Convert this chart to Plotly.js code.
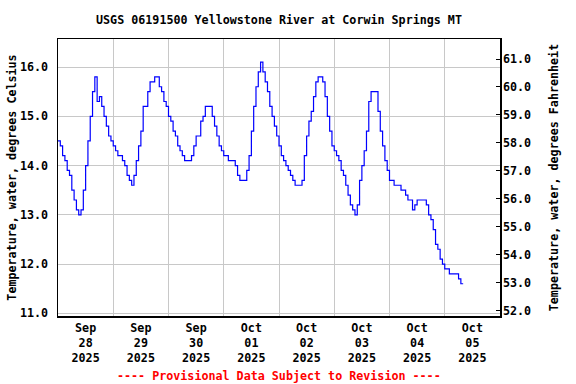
<!DOCTYPE html>
<html>
<head>
<meta charset="utf-8">
<script src="https://cdn.plot.ly/plotly-3.0.1.min.js"></script>
<style>
  html, body { margin: 0; padding: 0; background: #ffffff; }
  #chart { width: 576px; height: 384px; }
</style>
</head>
<body>
<div id="chart"></div>
<script>
// ---- Data (hourly readings, degrees Celsius) ----
const stationTitle = 'USGS 06191500 Yellowstone River at Corwin Springs MT';
const firstReading = '2025-09-28T00:00:00';
const readingIntervalHours = 1;

const tempSep28 = [14.5, 14.4, 14.2, 14.1, 13.9, 13.8, 13.5, 13.3, 13.1, 13.0, 13.1, 13.5,
                   14.0, 14.5, 15.0, 15.5, 15.8, 15.3, 15.4, 15.2, 15.0, 14.8, 14.6, 14.5];
const tempSep29 = [14.4, 14.3, 14.2, 14.2, 14.1, 14.0, 13.8, 13.7, 13.6, 13.8, 14.1, 14.4,
                   14.7, 15.2, 15.2, 15.5, 15.7, 15.7, 15.8, 15.8, 15.6, 15.5, 15.3, 15.2];
const tempSep30 = [15.0, 14.9, 14.7, 14.6, 14.4, 14.3, 14.2, 14.1, 14.1, 14.1, 14.2, 14.4,
                   14.6, 14.6, 14.9, 15.0, 15.2, 15.2, 15.2, 15.0, 14.8, 14.6, 14.4, 14.3];
const tempOct01 = [14.2, 14.2, 14.1, 14.1, 14.1, 14.0, 13.8, 13.7, 13.7, 13.7, 13.9, 14.2,
                   14.7, 15.2, 15.6, 15.9, 16.1, 15.9, 15.7, 15.5, 15.2, 15.0, 14.8, 14.6];
const tempOct02 = [14.4, 14.2, 14.1, 14.0, 13.9, 13.8, 13.7, 13.6, 13.6, 13.6, 13.7, 14.2,
                   14.6, 14.9, 15.1, 15.4, 15.7, 15.8, 15.8, 15.7, 15.4, 15.0, 14.7, 14.4];
const tempOct03 = [14.3, 14.2, 14.1, 13.9, 13.8, 13.6, 13.4, 13.2, 13.1, 13.0, 13.2, 13.7,
                   14.0, 14.3, 14.7, 15.3, 15.5, 15.5, 15.5, 15.1, 14.7, 14.4, 14.1, 13.9];
const tempOct04 = [13.7, 13.7, 13.6, 13.6, 13.6, 13.5, 13.5, 13.4, 13.3, 13.3, 13.1, 13.2,
                   13.3, 13.3, 13.3, 13.3, 13.2, 13.0, 12.9, 12.7, 12.4, 12.3, 12.1, 12.0];
const tempOct05 = [11.9, 11.9, 11.8, 11.8, 11.8, 11.8, 11.7, 11.6, 11.6];

const celsiusTicks = [11.0, 12.0, 13.0, 14.0, 15.0, 16.0];
const fahrenheitTicks = [52, 53, 54, 55, 56, 57, 58, 59, 60, 61];
const provisionalNote = '---- Provisional Data Subject to Revision ----';

// ---- Build series ----
const temperatureC = [].concat(tempSep28, tempSep29, tempSep30, tempOct01,
                               tempOct02, tempOct03, tempOct04, tempOct05);
const t0 = new Date(firstReading + 'Z').getTime();
function fmt(ms) {
  const d = new Date(ms);
  const p = n => String(n).padStart(2, '0');
  return d.getUTCFullYear() + '-' + p(d.getUTCMonth() + 1) + '-' + p(d.getUTCDate()) +
         ' ' + p(d.getUTCHours()) + ':' + p(d.getUTCMinutes());
}
const times = temperatureC.map((_, i) => fmt(t0 + i * readingIntervalHours * 3600000));

const FONT = 'DejaVu Sans Mono, Liberation Mono, monospace';
const fs = 11.7;

const trace = {
  x: times,
  y: temperatureC,
  type: 'scatter',
  mode: 'lines',
  line: { color: '#0000ff', width: 1.2, shape: 'hv' },
  hoverinfo: 'skip',
  showlegend: false
};
// invisible trace to activate the Fahrenheit axis
const traceF = {
  x: [times[0]],
  y: [fahrenheitTicks[0]],
  yaxis: 'y2',
  type: 'scatter',
  mode: 'markers',
  marker: { opacity: 0 },
  hoverinfo: 'skip',
  showlegend: false
};

const layout = {
  width: 576,
  height: 384,
  margin: { l: 58, r: 76, t: 39, b: 68 },
  paper_bgcolor: '#ffffff',
  plot_bgcolor: '#ffffff',
  font: { family: FONT, size: fs, color: '#000000', weight: 'bold' },
  title: {
    text: stationTitle,
    font: { family: FONT, size: fs, color: '#000000', weight: 'bold' },
    xref: 'paper', x: 0.5, xanchor: 'center',
    yref: 'container', y: 1 - 20 / 384, yanchor: 'middle'
  },
  xaxis: {
    type: 'date',
    range: ['2025-09-28 00:00', '2025-10-06 00:00'],
    tick0: '2025-09-28',
    dtick: 86400000,
    tickformat: '%b<br>%d<br>%Y',
    ticklabelmode: 'period',
    ticks: '',
    showgrid: true,
    gridcolor: '#c8c8c8',
    gridwidth: 1,
    showline: true,
    linecolor: '#000000',
    linewidth: 1.5,
    mirror: true,
    zeroline: false,
    tickfont: { family: FONT, size: fs, color: '#000000', weight: 'bold' }
  },
  yaxis: {
    range: [10.945, 16.569],
    tickvals: celsiusTicks,
    tickformat: '.1f',
    ticks: '',
    ticklabelstandoff: 6,
    showgrid: true,
    gridcolor: '#c8c8c8',
    gridwidth: 1,
    showline: true,
    linecolor: '#000000',
    linewidth: 1.5,
    mirror: true,
    zeroline: false,
    tickfont: { family: FONT, size: fs, color: '#000000', weight: 'bold' },
    title: {
      text: 'Temperature, water, degrees Celsius',
      font: { family: FONT, size: fs, color: '#000000', weight: 'bold' },
      standoff: 1
    }
  },
  yaxis2: {
    overlaying: 'y',
    side: 'right',
    range: [51.803, 61.717],
    tickvals: fahrenheitTicks,
    tickformat: '.1f',
    ticks: 'inside',
    ticklen: 4,
    tickcolor: '#000000',
    ticklabelstandoff: 2,
    showgrid: false,
    zeroline: false,
    showline: false,
    tickfont: { family: FONT, size: fs, color: '#000000', weight: 'bold' },
    title: {
      text: 'Temperature, water, degrees Fahrenheit',
      font: { family: FONT, size: fs, color: '#000000', weight: 'bold' },
      standoff: 19
    }
  },
  annotations: [{
    text: provisionalNote,
    xref: 'paper', yref: 'paper',
    x: 0.5, y: -(375.5 - 316) / 277,
    xanchor: 'center', yanchor: 'middle',
    showarrow: false,
    font: { family: FONT, size: fs, color: '#ff0000', weight: 'bold' }
  }]
};

Plotly.newPlot('chart', [trace, traceF], layout, { staticPlot: true, displayModeBar: false });
</script>
</body>
</html>
